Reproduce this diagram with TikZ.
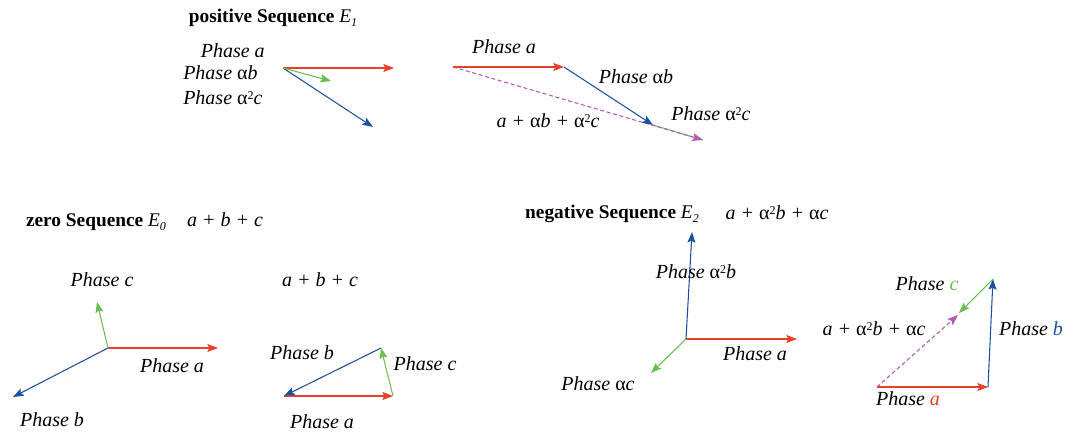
\documentclass[tikz,border=0pt]{standalone}
\usepackage{fontspec}
\setmainfont{Liberation Serif}
\usetikzlibrary{arrows.meta}
\definecolor{phred}{RGB}{234,64,42}
\definecolor{phblue}{RGB}{30,80,160}
\definecolor{phgreen}{RGB}{105,190,80}
\definecolor{phmag}{RGB}{180,90,180}
\newcommand{\al}{{\upshape α}}
\newcommand{\sq}{\raisebox{0.6ex}{\fontsize{9}{10}\selectfont\upshape 2}}
\newcommand{\subE}[1]{\textit{E}\raisebox{-0.45ex}{\fontsize{9}{10}\selectfont\itshape #1}}
\tikzset{vec/.style={-{Stealth[length=8pt,width=6pt,inset=1.5pt]},line width=0.8pt},
lbl/.style={inner sep=0pt,font=\fontsize{15}{17}\selectfont\itshape},
ttl/.style={inner sep=0pt,font=\fontsize{14.5}{17}\selectfont\bfseries}}
\begin{document}
\begin{tikzpicture}[x=0.75pt,y=-0.75pt]
\useasboundingbox(0,0)rectangle(1065,432);
\node[ttl](tpos)at(273,18){positive Sequence \mdseries\subE{1}};
\coordinate(p0)at(283,68);\coordinate(pa)at(394,68);\coordinate(pb)at(373,127);\coordinate(pc)at(331,81);
\draw[vec,phred](p0)--(pa);\draw[vec,phblue](p0)--(pb);\draw[vec,phgreen](p0)--(pc);
\node[lbl,anchor=east](lpa)at(265,51){Phase a};
\node[lbl,anchor=west](lpb)at(183,73){Phase \al b};
\node[lbl,anchor=west](lpc)at(183,98){Phase \al\sq c};
\coordinate(q0)at(453,67);\coordinate(qa)at(564,67);\coordinate(qb)at(653,125);\coordinate(qc)at(703,140);
\draw[line width=0.8pt,phgreen](qb)--(qc);
\draw[vec,phmag,dash pattern=on 3pt off 2pt](q0)--(qc);
\draw[vec,phred](q0)--(qa);\draw[vec,phblue](qa)--(qb);
\node[lbl](lqa)at(504,47){Phase a};
\node[lbl](lqb)at(636,77){Phase \al b};
\node[lbl](lqc)at(711,114){Phase \al\sq c};
\node[lbl](lqs)at(548,121){a + \al b + \al\sq c};
\node[ttl](tzero)at(96,222){zero Sequence \mdseries\subE{0}};
\node[lbl](lzs)at(225,220){a + b + c};
\coordinate(z0)at(108,348);\coordinate(za)at(218,348);\coordinate(zb)at(13,397);\coordinate(zc)at(97,302);
\draw[vec,phred](z0)--(za);\draw[vec,phblue](z0)--(zb);\draw[vec,phgreen](z0)--(zc);
\node[lbl](lzc)at(102,280){Phase c};
\node[lbl](lza)at(172,366){Phase a};
\node[lbl](lzb)at(52,420){Phase b};
\node[lbl](lts)at(320,280){a + b + c};
\coordinate(t0)at(284,396);\coordinate(ta)at(393,396);\coordinate(tc)at(381,348);
\draw[vec,phred](t0)--(ta);\draw[vec,phgreen](ta)--(tc);\draw[vec,phblue](tc)--(t0);
\node[lbl](ltb)at(302,353){Phase b};
\node[lbl](ltc)at(425,364){Phase c};
\node[lbl](lta)at(322,422){Phase a};
\node[ttl](tneg)at(612,214){negative Sequence \mdseries\subE{2}};
\node[lbl](lns)at(777,213){a + \al\sq b + \al c};
\coordinate(n0)at(686,339);\coordinate(na)at(797,339);\coordinate(nb)at(692,232);\coordinate(nc)at(651,373);
\draw[vec,phred](n0)--(na);\draw[vec,phblue](n0)--(nb);\draw[vec,phgreen](n0)--(nc);
\node[lbl](lnb)at(696,272){Phase \al\sq b};
\node[lbl](lna)at(755,354){Phase a};
\node[lbl](lnc)at(598,384){Phase \al c};
\coordinate(m0)at(877,387);\coordinate(ma)at(988,387);\coordinate(mb)at(993,279);\coordinate(mc)at(959,313);\coordinate(ms)at(958,315);
\draw[vec,phmag,dash pattern=on 3pt off 2pt](m0)--(ms);
\draw[vec,phred](m0)--(ma);\draw[vec,phblue](ma)--(mb);\draw[vec,phgreen](mb)--(mc);
\node[lbl](lmc)at(927,284){Phase \textcolor{phgreen}{c}};
\node[lbl](lms)at(874,329){a + \al\sq b + \al c};
\node[lbl](lmb)at(1031,329){Phase \textcolor{phblue}{b}};
\node[lbl](lma)at(908,399){Phase \textcolor{phred}{a}};
\end{tikzpicture}
\end{document}
